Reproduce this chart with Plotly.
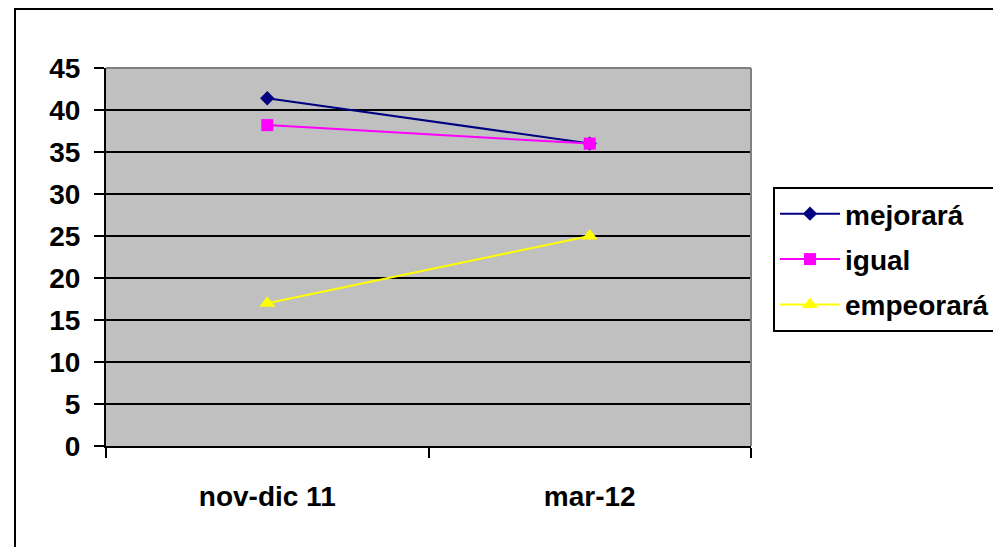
import plotly.graph_objects as go

categories = ["nov-dic 11", "mar-12"]
mejorara = [41.4, 36.0]
igual = [38.2, 36.0]
empeorara = [17.0, 25.0]
y_ticks = [0, 5, 10, 15, 20, 25, 30, 35, 40, 45]

FONT = "Arial, 'Liberation Sans', sans-serif"

fig = go.Figure()
fig.add_trace(go.Scatter(x=categories, y=mejorara, name="mejorará", mode="lines+markers",
                         legendgroup="a",
                         line=dict(color="#000080", width=2),
                         marker=dict(symbol="diamond", size=11, color="#000080")))
fig.add_trace(go.Scatter(x=categories, y=igual, name="igual", mode="lines+markers",
                         legendgroup="b",
                         line=dict(color="#FF00FF", width=2),
                         marker=dict(symbol="square", size=12, color="#FF00FF")))
fig.add_trace(go.Scatter(x=categories, y=empeorara, name="empeorará", mode="lines+markers",
                         legendgroup="c",
                         line=dict(color="#FFFF00", width=2),
                         marker=dict(symbol="triangle-up", size=14, color="#FFFF00")))

# page is rendered with an 8px body offset; compensate
OFF = 8
W, H = 1001, 547
PL, PR, PT, PB = 106, 751, 68, 446  # target plot-area pixel edges on screen
L = PL - OFF
T = PT - OFF
R = W - (PR - OFF)
B = H - (PB - OFF)
pw, ph = W - L - R, H - T - B

def px(xs):
    return (xs - PL) / pw

def py(ys):
    return (PB - ys) / ph

fig.update_layout(
    width=W, height=H,
    margin=dict(l=L, r=R, t=T, b=B, pad=0),
    paper_bgcolor="white",
    plot_bgcolor="#C0C0C0",
    font=dict(family=FONT, size=28, color="black"),
    xaxis=dict(type="category", range=[-0.5, 1.5], tickson="boundaries",
               ticks="outside", ticklen=10, tickwidth=1.5, tickcolor="black",
               showline=True, linecolor="black", linewidth=2,
               showgrid=False, zeroline=False,
               tickfont=dict(family=FONT, size=28, color="black", weight="bold"),
               ticklabelstandoff=24),
    yaxis=dict(range=[0, 45], tickvals=y_ticks, ticks="outside", ticklen=10,
               tickwidth=1.5, tickcolor="black",
               showline=True, linecolor="black", linewidth=2,
               showgrid=True, gridcolor="black", gridwidth=2,
               zeroline=False,
               tickfont=dict(family=FONT, size=28, color="black", weight="bold"),
               ticklabelstandoff=8),
    legend=dict(x=px(773), y=py(187), xanchor="left", yanchor="top",
                bordercolor="black", borderwidth=2, bgcolor="white",
                font=dict(family=FONT, size=28, color="black", weight="bold"),
                tracegroupgap=6, itemwidth=60),
    shapes=[
        dict(type="rect", xref="paper", yref="paper",
             x0=px(15), x1=px(1015), y0=py(9), y1=py(560),
             line=dict(color="black", width=2), layer="below"),
        dict(type="line", xref="paper", yref="paper", x0=0, x1=1, y0=1, y1=1,
             line=dict(color="#808080", width=2)),
        dict(type="line", xref="paper", yref="paper", x0=1, x1=1, y0=0, y1=1,
             line=dict(color="#808080", width=2)),
    ],
)

fig.write_html("out.html")
